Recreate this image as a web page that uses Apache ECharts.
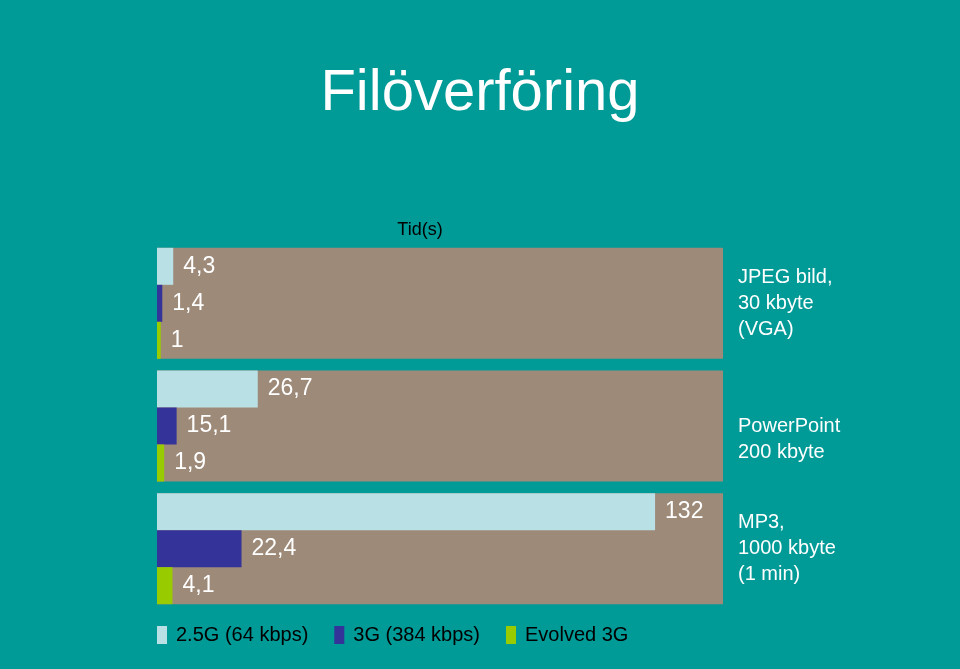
<!DOCTYPE html>
<html>
<head>
<meta charset="utf-8">
<script src="https://cdn.jsdelivr.net/npm/echarts@6/dist/echarts.min.js"></script>
<style>
html,body{margin:0;padding:0;background:#009a97;}
#c{width:960px;height:669px;}
</style>
</head>
<body>
<div id="c"></div>
<script>
var categories = ['JPEG bild,\n30 kbyte\n(VGA)', 'PowerPoint\n200 kbyte', 'MP3,\n1000 kbyte\n(1 min)'];
var seriesNames = ['2.5G (64 kbps)', '3G (384 kbps)', 'Evolved 3G'];
// bar lengths as drawn in the picture
var values25G = [4.3, 26.7, 132];
var values3G = [1.4, 5.2, 22.4];
var valuesE3G = [1, 1.9, 4.1];
// value labels as printed in the picture
var labels25G = ['4,3', '26,7', '132'];
var labels3G = ['1,4', '15,1', '22,4'];
var labelsE3G = ['1', '1,9', '4,1'];
var axisMax = 150;
var backgroundBand = [150, 150, 150];

var colors = ['#b9e0e4', '#333399', '#99cc00'];
var FONT = 'Liberation Sans, Arial, sans-serif';

function mkSeries(name, data, labels, color) {
  return {
    name: name, type: 'bar', data: data, xAxisIndex: 0, yAxisIndex: 0,
    barGap: '0%', barCategoryGap: '9.5%', z: 3,
    itemStyle: { color: color },
    label: { show: true, position: 'right', distance: 10, color: '#fff', fontSize: 23,
      fontFamily: FONT, formatter: function (p) { return labels[p.dataIndex]; } }
  };
}

var chart = echarts.init(document.getElementById('c'));
chart.setOption({
  backgroundColor: '#009a97',
  animation: false,
  title: {
    text: 'Filöverföring', left: 'center', top: 60,
    textStyle: { color: '#fff', fontSize: 58, fontWeight: 'normal', fontFamily: FONT }
  },
  legend: {
    data: seriesNames, left: 152, top: 620, itemWidth: 10, itemHeight: 18, itemGap: 26,
    icon: 'rect',
    textStyle: { color: '#000', fontSize: 20, fontFamily: FONT, padding: [0, 0, 0, 4] }
  },
  grid: { left: 157, right: 237, top: 242, bottom: 59 },
  xAxis: [{
    type: 'value', min: 0, max: axisMax, position: 'top',
    name: 'Tid(s)', nameLocation: 'middle', nameGap: 3,
    nameTextStyle: { color: '#000', fontSize: 18, fontFamily: FONT, padding: [0, 40, 0, 0] },
    axisLine: { show: false }, axisTick: { show: false }, axisLabel: { show: false }, splitLine: { show: false }
  }],
  yAxis: [{
    type: 'category', data: categories, inverse: true, position: 'right',
    axisLine: { show: false }, axisTick: { show: false },
    axisLabel: {
      color: '#fff', fontSize: 20, lineHeight: 26, align: 'left', margin: 15,
      fontFamily: FONT, padding: [10, 0, 0, 0],
      formatter: function (v) { return v.split('\n').length === 2 ? ' \n' + v : v; }
    }
  }, {
    type: 'category', data: categories, inverse: true, show: false
  }],
  series: [
    {
      name: 'bg', type: 'bar', data: backgroundBand, yAxisIndex: 1, xAxisIndex: 0,
      barCategoryGap: '9.5%', z: 1, silent: true,
      itemStyle: { color: '#9e8a79' }
    },
    mkSeries(seriesNames[0], values25G, labels25G, colors[0]),
    mkSeries(seriesNames[1], values3G, labels3G, colors[1]),
    mkSeries(seriesNames[2], valuesE3G, labelsE3G, colors[2])
  ]
});
</script>
</body>
</html>
